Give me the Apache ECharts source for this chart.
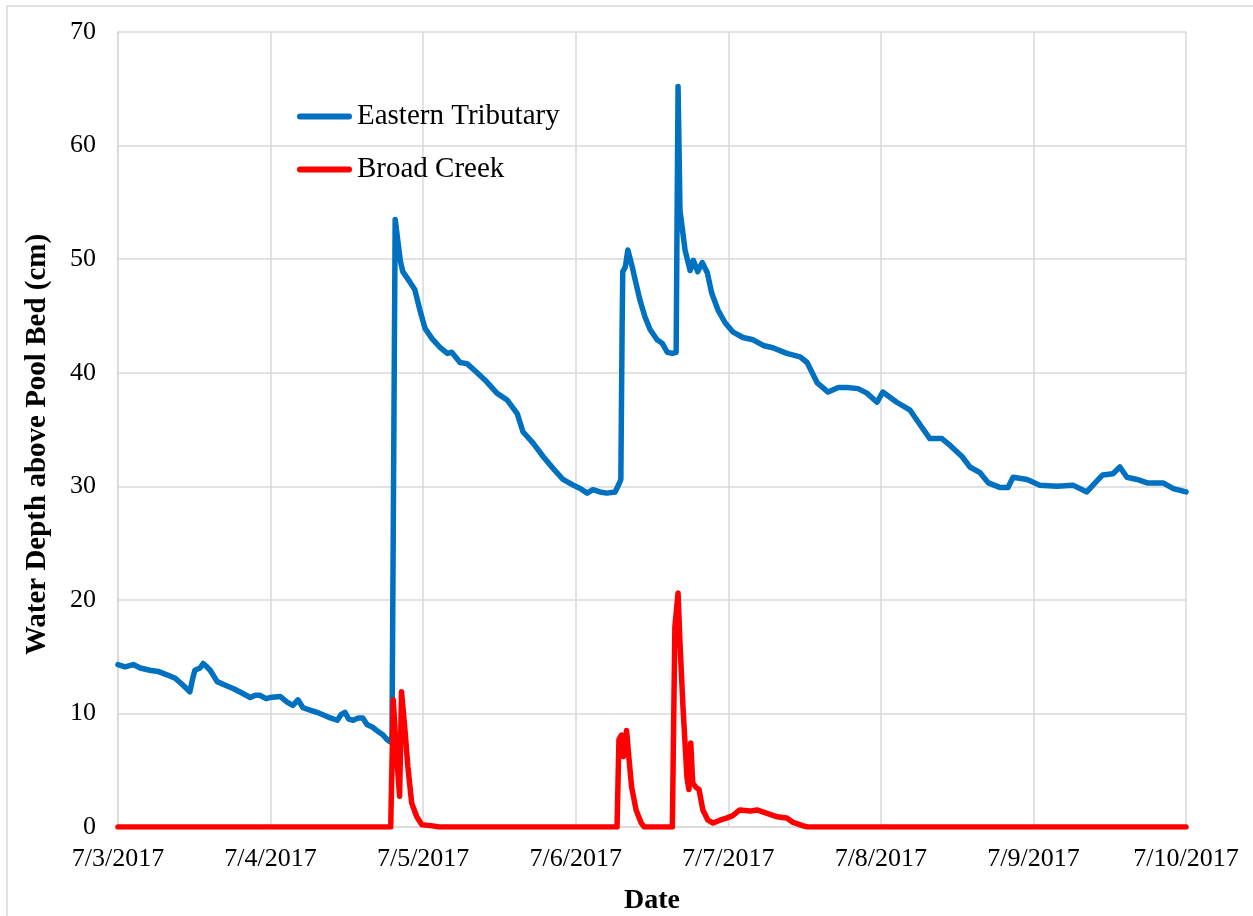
<!DOCTYPE html>
<html>
<head>
<meta charset="utf-8">
<title>Water Depth above Pool Bed</title>
<script src="https://cdn.jsdelivr.net/npm/echarts/dist/echarts.min.js"></script>
<style>
  html, body { margin: 0; padding: 0; background: #ffffff; }
  #chart { width: 1253px; height: 916px; }
</style>
</head>
<body>
<div id="chart"></div>
<script>
// Day labels on the x axis (one per 24 h starting 7/3/2017 00:00)
const dateLabels = ['7/3/2017', '7/4/2017', '7/5/2017', '7/6/2017', '7/7/2017', '7/8/2017', '7/9/2017', '7/10/2017'];

// Eastern Tributary: hours since 7/3/2017 00:00 and depth (cm)
const etHours = [0, 1.1, 2.4, 3.5, 5.0, 6.3, 7.7, 9.0, 10.2, 11.3, 11.8, 12.1, 12.9, 13.4, 13.8, 14.5, 15.6, 16.8, 18.1, 19.5,
  20.8, 21.6, 22.3, 23.3, 23.9, 25.5, 26.6, 27.5, 28.3, 29.1, 30.2, 31.3, 32.6, 33.4, 34.5, 35.1, 35.7, 36.3, 37.0, 37.8,
  38.5, 39.2, 40.0, 40.7, 41.7, 42.3, 42.8, 43.1, 43.6, 44.4, 44.8, 45.9, 46.7, 47.5, 48.3, 49.4, 50.7, 51.8, 52.5, 53.8,
  54.9, 56.5, 58.0, 59.6, 61.2, 62.8, 63.7, 65.3, 66.9, 68.4, 70.0, 71.6, 72.7, 73.8, 74.7, 75.8, 76.9, 78.2, 78.8, 79.1,
  79.3, 79.4, 79.8, 80.2, 80.9, 81.3, 82.1, 82.9, 83.7, 84.8, 85.6, 86.4, 87.2, 87.8, 87.9, 88.1, 88.4, 89.2, 90.0, 90.5,
  91.2, 91.9, 92.7, 93.4, 94.4, 95.5, 96.7, 98.3, 99.9, 101.5, 103.0, 105.2, 107.3, 108.4, 110.0, 111.7, 113.3, 114.7, 116.4, 117.8,
  119.4, 120.3, 122.5, 124.6, 126.2, 127.7, 129.6, 130.9, 132.8, 134.0, 135.6, 136.9, 138.7, 140.0, 140.8, 143.0, 145.0, 147.7, 150.2, 152.4,
  153.7, 154.9, 156.5, 157.6, 158.7, 160.3, 161.9, 164.4, 166.0, 168.0];
const etDepth = [14.3, 14.1, 14.3, 14.0, 13.8, 13.7, 13.4, 13.1, 12.5, 11.9, 13.2, 13.8, 14.0, 14.4, 14.2, 13.8, 12.8, 12.5, 12.2, 11.8,
  11.4, 11.6, 11.6, 11.3, 11.4, 11.5, 11.0, 10.7, 11.2, 10.5, 10.3, 10.1, 9.8, 9.6, 9.4, 9.9, 10.1, 9.5, 9.4, 9.6,
  9.6, 9.0, 8.8, 8.5, 8.1, 7.7, 7.5, 8.0, 53.5, 49.9, 48.9, 48.0, 47.3, 45.5, 43.9, 43.0, 42.2, 41.7, 41.8, 40.9,
  40.8, 40.0, 39.2, 38.2, 37.6, 36.4, 34.8, 33.8, 32.6, 31.6, 30.6, 30.1, 29.8, 29.4, 29.7, 29.5, 29.4, 29.5, 30.2, 30.6,
  44.0, 48.9, 49.3, 50.8, 49.3, 48.3, 46.4, 44.9, 43.8, 42.9, 42.6, 41.8, 41.7, 41.8, 50.0, 65.2, 54.3, 50.8, 49.0, 49.9,
  48.9, 49.7, 48.8, 47.0, 45.5, 44.4, 43.6, 43.1, 42.9, 42.4, 42.2, 41.7, 41.4, 40.9, 39.1, 38.3, 38.7, 38.7, 38.6, 38.2,
  37.4, 38.3, 37.4, 36.7, 35.4, 34.2, 34.2, 33.6, 32.6, 31.7, 31.2, 30.3, 29.9, 29.9, 30.8, 30.6, 30.1, 30.0, 30.1, 29.5,
  30.3, 31.0, 31.1, 31.7, 30.8, 30.6, 30.3, 30.3, 29.8, 29.5];

// Broad Creek: hours since 7/3/2017 00:00 and depth (cm)
const bcHours = [0, 42.9, 43.3, 43.8, 44.3, 44.6, 45.1, 45.6, 46.2, 47.0, 47.8, 49.5, 50.5,
  78.5, 78.8, 79.2, 79.5, 80.0, 80.4, 80.8, 81.5, 82.3, 82.8,
  87.2, 87.6, 88.1, 88.4, 88.9, 89.5, 89.8, 90.1, 90.4, 90.9, 91.4, 92.0, 92.8, 93.6, 94.7, 95.8, 96.7, 97.8,
  99.4, 100.5, 102.1, 103.7, 105.2, 106.2, 107.8, 108.5, 168.0];
const bcDepth = [0, 0, 11.2, 6.5, 2.7, 11.9, 8.8, 5.3, 2.1, 0.9, 0.2, 0.1, 0,
  0, 7.7, 8.1, 6.2, 8.5, 5.9, 3.5, 1.5, 0.35, 0,
  0, 17.6, 20.6, 16.2, 10.3, 4.4, 3.3, 7.4, 3.9, 3.5, 3.3, 1.5, 0.6, 0.35, 0.6, 0.8, 1.0, 1.5,
  1.4, 1.5, 1.2, 0.9, 0.8, 0.4, 0.1, 0, 0];

const pairs = (xs, ys) => xs.map((x, i) => [x, ys[i]]);

const serif = '"Liberation Serif", "Times New Roman", serif';
const gridColor = '#d9d9d9';
const capsule = 'path://M3,0 H52 A3,3 0 0 1 52,6 H3 A3,3 0 0 1 3,0 Z';

const chart = echarts.init(document.getElementById('chart'), null, { renderer: 'canvas' });

chart.setOption({
  animation: false,
  backgroundColor: '#ffffff',
  graphic: [{
    type: 'rect',
    shape: { x: 7, y: 6, width: 1260, height: 930 },
    style: { fill: 'none', stroke: gridColor, lineWidth: 1.5 },
    silent: true
  }],
  grid: { left: 118, right: 67, top: 32, bottom: 89, containLabel: false, outerBoundsMode: 'none' },
  legend: {
    left: 292,
    top: 97,
    orient: 'vertical',
    itemGap: 24,
    itemWidth: 55,
    itemHeight: 6,
    textStyle: { fontFamily: serif, fontSize: 29, color: '#000000' },
    data: [
      { name: 'Eastern Tributary', icon: capsule },
      { name: 'Broad Creek', icon: capsule }
    ]
  },
  xAxis: {
    type: 'value',
    min: 0,
    max: 168,
    interval: 24,
    name: 'Date',
    nameLocation: 'middle',
    nameGap: 60,
    nameTextStyle: { fontFamily: serif, fontSize: 28, fontWeight: 'bold', color: '#000000' },
    axisLine: { show: true, lineStyle: { color: gridColor, width: 1.5 } },
    axisTick: { show: false },
    splitLine: { show: true, lineStyle: { color: gridColor, width: 1.5 } },
    axisLabel: {
      margin: 19,
      fontFamily: serif,
      fontSize: 26,
      color: '#000000',
      formatter: v => dateLabels[Math.round(v / 24)]
    }
  },
  yAxis: {
    type: 'value',
    min: 0,
    max: 70,
    interval: 10,
    name: 'Water Depth above Pool Bed (cm)',
    nameLocation: 'middle',
    nameGap: 66,
    nameTextStyle: { fontFamily: serif, fontSize: 29, fontWeight: 'bold', color: '#000000', padding: [0, 30, 0, 0] },
    axisLine: { show: true, lineStyle: { color: gridColor, width: 1.5 } },
    axisTick: { show: false },
    splitLine: { show: true, lineStyle: { color: gridColor, width: 1.5 } },
    axisLabel: { margin: 22, fontFamily: serif, fontSize: 26, color: '#000000' }
  },
  series: [
    {
      name: 'Eastern Tributary',
      type: 'line',
      data: pairs(etHours, etDepth),
      symbol: 'none',
      color: '#0070C0',
      lineStyle: { color: '#0070C0', width: 5.5, cap: 'round', join: 'round' }
    },
    {
      name: 'Broad Creek',
      type: 'line',
      data: pairs(bcHours, bcDepth),
      symbol: 'none',
      color: '#FF0000',
      lineStyle: { color: '#FF0000', width: 5.5, cap: 'round', join: 'round' }
    }
  ]
});
</script>
</body>
</html>
